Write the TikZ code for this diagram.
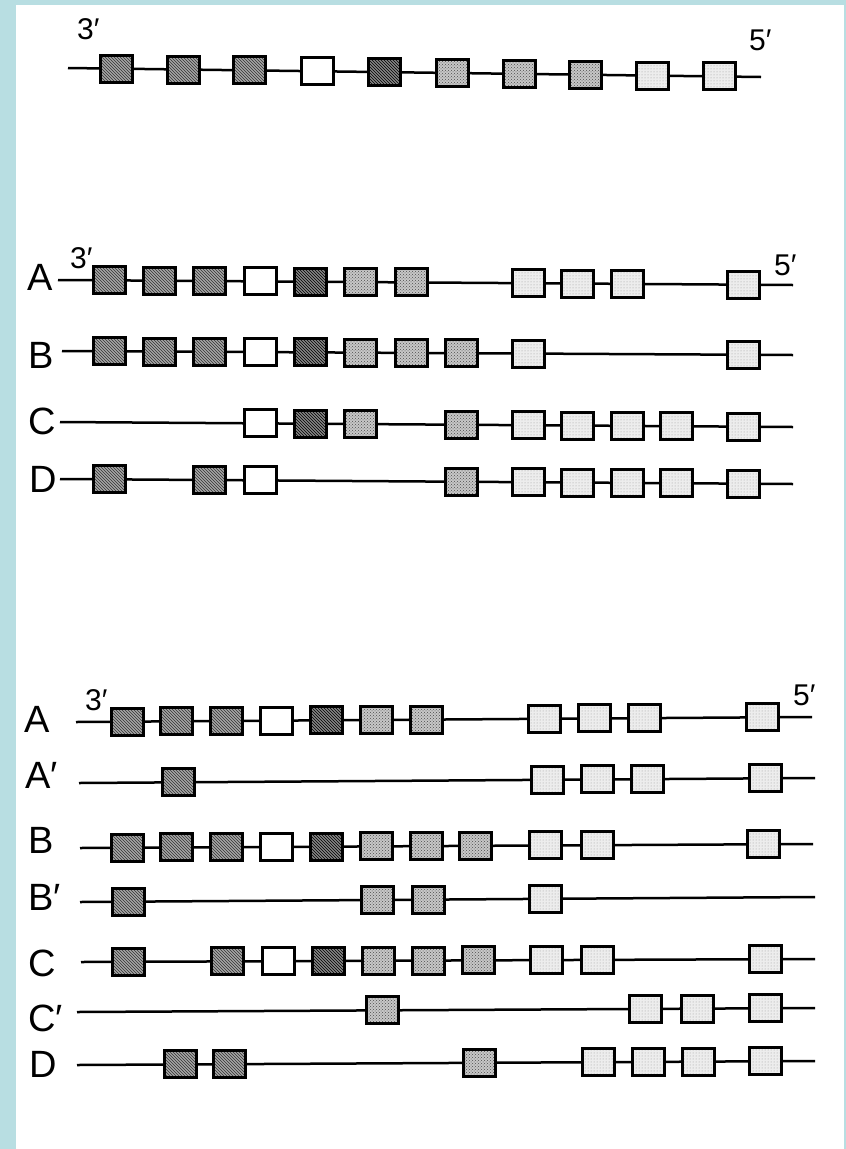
\documentclass[tikz,border=0pt]{standalone}
\usepackage{fontspec}
\setmainfont{Liberation Sans}
\usetikzlibrary{patterns}
\definecolor{frameblue}{RGB}{184,222,226}
% #1 row name, #2 x start, #3 y start, #4 x end, #5 y end, #6 list of x/style
\newcommand{\generow}[6]{%
  \coordinate (#1s) at (#2,#3);
  \coordinate (#1e) at (#4,#5);
  \draw[dna] (#1s) -- (#1e);
  \foreach \bx/\bs [count=\i] in {#6} {
    \pgfmathsetmacro\by{#3+(\bx-#2)*(#5-#3)/(#4-#2)}
    \node[exon,\bs] (#1b\i) at (\bx,\by) {};
  }%
}
\begin{document}
\begin{tikzpicture}[x=1pt,y=-1pt,
  dna/.style={line width=2.5pt, line cap=butt},
  exon/.style={draw, line width=3pt, minimum width=32pt, minimum height=27pt, inner sep=0pt, outer sep=0pt},
  dk/.style={preaction={fill=black!35}, pattern=north west lines, pattern color=black!80},
  dd/.style={preaction={fill=black!48}, pattern=north west lines, pattern color=black},
  md/.style={preaction={fill=black!22}, pattern=crosshatch dots, pattern color=black!70},
  lt/.style={preaction={fill=black!7}, pattern=dots, pattern color=black!40},
  wt/.style={fill=white},
  lab/.style={anchor=base west, inner sep=0pt, font=\fontsize{38}{38}\selectfont},
  endlab/.style={anchor=base west, inner sep=0pt, font=\fontsize{30}{30}\selectfont}]
\fill[white] (0,0) rectangle (846,1149);
\fill[frameblue] (0,0) rectangle (16,1149);
\fill[frameblue] (0,0) rectangle (846,5);
\fill[frameblue] (844,0) rectangle (846,1149);
\useasboundingbox (0,0) rectangle (846,1149);

% ---------- top molecule ----------
\node[endlab] (t3) at (77,39) {3′};
\node[endlab] (t5) at (749,50) {5′};
\generow{T}{68}{68}{761}{77}{116/dk,183.5/dk,249/dk,317/wt,384.5/dd,452/md,519.5/md,585.5/md,652.5/lt,719/lt}

% ---------- middle set ----------
\node[endlab] (m3) at (70,268) {3′};
\node[endlab] (m5) at (774,275) {5′};
\node[lab] (mA) at (27,290) {A};
\node[lab] (mB) at (28,368) {B};
\node[lab] (mC) at (28,434) {C};
\node[lab] (mD) at (29,492) {D};
\generow{MA}{58}{280}{793}{285}{109/dk,159/dk,209/dk,260/wt,310/dd,360/md,411/md,528/lt,577/lt,627/lt,743/lt}
\generow{MB}{62}{351}{793}{355}{109/dk,159/dk,209/dk,260/wt,310/dd,360/md,411/md,461/md,528/lt,743/lt}
\generow{MC}{60}{422}{793}{427}{260/wt,310/dd,360/md,461/md,528/lt,577/lt,627/lt,676/lt,743/lt}
\generow{MD}{60}{479}{793}{484}{109/dk,209/dk,260/wt,461/md,528/lt,577/lt,627/lt,676/lt,743/lt}

% ---------- bottom set ----------
\node[endlab] (b3) at (85,710) {3′};
\node[endlab] (b5) at (793,705) {5′};
\node[lab] (bA) at (24,732) {A};
\node[lab] (bAp) at (25,788) {A′};
\node[lab] (bB) at (28,853) {B};
\node[lab] (bBp) at (28,910) {B′};
\node[lab] (bC) at (28,976) {C};
\node[lab] (bCp) at (28,1031) {C′};
\node[lab] (bD) at (29,1077) {D};
\generow{BA}{76}{722}{812}{717}{127/dk,176/dk,226/dk,276/wt,326/dd,376/md,426/md,544/lt,594/lt,644/lt,762/lt}
\generow{BAp}{79}{783}{815}{778}{178/dk,547/lt,597/lt,647/lt,765/lt}
\generow{BB}{80}{848}{813}{844}{127/dk,176/dk,226/dk,276/wt,326/dd,376/md,426/md,475/md,545/lt,597/lt,763/lt}
\generow{BBp}{80}{902}{815}{897}{128/dk,377/md,428/md,545/lt}
\generow{BC}{81}{962}{815}{959}{128/dk,227/dk,278/wt,328/dd,378/md,428/md,478/md,546/lt,597/lt,765/lt}
\generow{BCp}{77}{1012}{815}{1008}{382/md,645/lt,697/lt,765/lt}
\generow{BD}{77}{1065}{815}{1061}{180/dk,229/dk,479/md,598/lt,648/lt,698/lt,765/lt}
\end{tikzpicture}
\end{document}
